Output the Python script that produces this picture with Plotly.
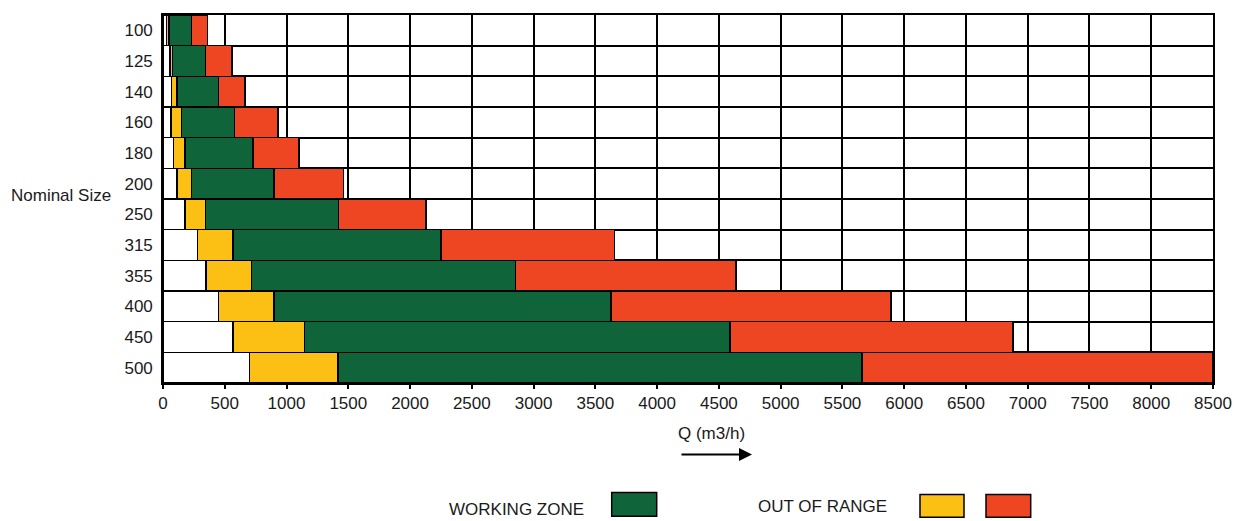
import plotly.graph_objects as go

sizes = ["100", "125", "140", "160", "180", "200", "250", "315", "355", "400", "450", "500"]
q_min = [30, 55, 70, 65, 85, 115, 180, 280, 350, 450, 565, 700]          # start of low out-of-range
q_work_start = [50, 75, 115, 150, 180, 230, 345, 565, 715, 900, 1145, 1415]
q_work_end = [230, 345, 450, 580, 730, 900, 1420, 2250, 2855, 3625, 4590, 5660]
q_max = [360, 560, 665, 930, 1100, 1460, 2130, 3655, 4640, 5895, 6880, 8500]
x_ticks = list(range(0, 8501, 500))

GREEN = "#10643A"
YELLOW = "#FCBF14"
RED = "#EE4523"
FONT = "Arial, Liberation Sans, sans-serif"
FS = 17

y_idx = list(range(len(sizes)))
seg_white = q_min
seg_yellow = [b - a for a, b in zip(q_min, q_work_start)]
seg_green = [b - a for a, b in zip(q_work_start, q_work_end)]
seg_red = [b - a for a, b in zip(q_work_end, q_max)]

fig = go.Figure()
for vals, col in [(seg_white, "white"), (seg_yellow, YELLOW), (seg_green, GREEN), (seg_red, RED)]:
    fig.add_trace(go.Bar(
        y=y_idx, x=vals, orientation="h", width=1,
        marker=dict(color=col, line=dict(color="black", width=1.5)),
        showlegend=False, hoverinfo="skip",
    ))

# page has an 8px body margin, so the figure is made 8px smaller and shifted
fig.update_layout(
    barmode="stack",
    width=1236, height=513,
    margin=dict(l=155, r=31, t=5, b=138),
    paper_bgcolor="white", plot_bgcolor="white",
    font=dict(family=FONT, size=FS, color="#1a1a1a"),
    showlegend=False,
)
fig.update_xaxes(
    range=[0, 8500], tickvals=x_ticks, ticktext=[str(v) for v in x_ticks],
    showgrid=True, gridcolor="black", gridwidth=1.6,
    showline=True, linecolor="black", linewidth=1.6, mirror=True,
    ticks="outside", ticklen=4, tickwidth=1.5, tickcolor="black",
    tickfont=dict(size=FS), zeroline=False,
)
fig.update_yaxes(
    range=[11.5, -0.5], tickvals=y_idx, ticktext=sizes,
    showgrid=False, zeroline=False,
    showline=True, linecolor="black", linewidth=1.6, mirror=True,
    ticks="outside", ticklen=5, tickcolor="rgba(0,0,0,0)",
    tickfont=dict(size=FS),
    minor=dict(tickmode="linear", tick0=0.5, dtick=1, showgrid=True,
               gridcolor="black", gridwidth=1.6, ticks=""),
)

W, T = 1050.0, 370.0
def px(x):
    return (x - 163) / W
def py(y):
    return (383 - y) / T

fig.add_annotation(text="Nominal Size", xref="paper", yref="paper", x=px(9), y=py(194),
                   xanchor="left", yanchor="middle", showarrow=False, font=dict(size=FS))
fig.add_annotation(text="Q (m3/h)", xref="paper", yref="paper", x=px(711), y=py(433.5),
                   xanchor="center", yanchor="middle", showarrow=False, font=dict(size=FS))
fig.add_annotation(text="", xref="paper", yref="paper", x=px(752), y=py(455),
                   ax=-72, ay=0, showarrow=True, arrowhead=2, arrowsize=1.3,
                   arrowwidth=2, arrowcolor="black")
fig.add_annotation(text="WORKING ZONE", xref="paper", yref="paper", x=px(447), y=py(510),
                   xanchor="left", yanchor="middle", showarrow=False, font=dict(size=FS))
fig.add_annotation(text="OUT OF RANGE", xref="paper", yref="paper", x=px(756), y=py(507.5),
                   xanchor="left", yanchor="middle", showarrow=False, font=dict(size=FS))

for (x0, x1, y0, y1, col) in [(611.7, 656.7, 493, 517, GREEN),
                               (920, 964, 495, 518, YELLOW),
                               (986, 1030.7, 495, 518, RED)]:
    fig.add_shape(type="rect", xref="paper", yref="paper",
                  x0=px(x0), x1=px(x1), y0=py(y1), y1=py(y0),
                  fillcolor=col, line=dict(color="black", width=1.5))

fig.write_html("out.html")
